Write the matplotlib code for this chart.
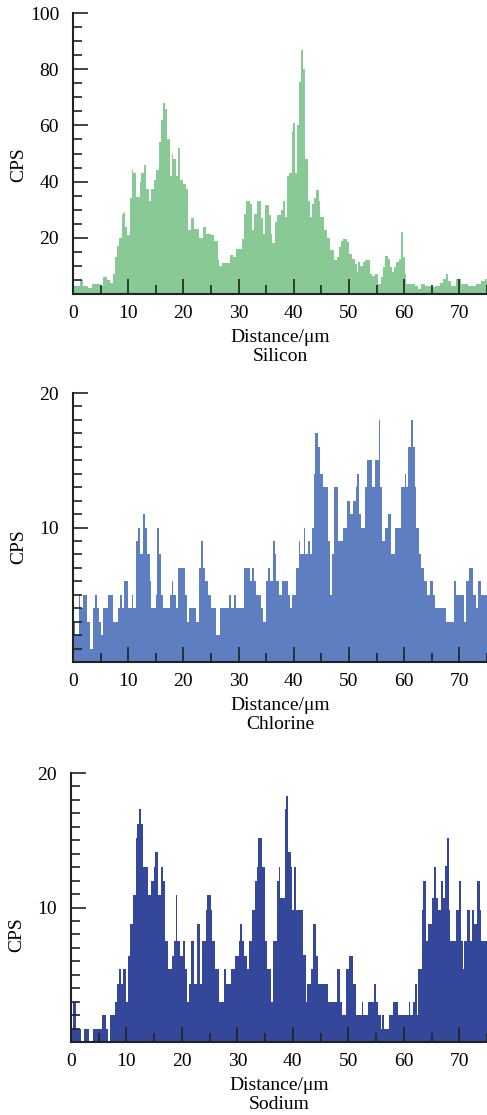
import numpy as np
import matplotlib
matplotlib.use("Agg")
import matplotlib.pyplot as plt
from matplotlib.ticker import MultipleLocator, FixedLocator

plt.rcParams['font.family'] = ['Liberation Serif', 'DejaVu Serif']
plt.rcParams['mathtext.fontset'] = 'stix'

X_MAX = 75.0

# ---------------- Silicon: step start (um) and CPS ----------------
si_x = [0, 1.3, 1.9, 2.8, 3.4, 4.9, 5.5, 6.1, 6.7, 7.3, 7.6, 7.9, 8.4, 8.8, 9.1, 9.4, 9.7,
        10.3, 10.6, 10.9, 11.5, 12.1, 12.4, 12.8, 13.3, 13.8, 14.2, 14.6, 15.1, 15.6, 16.0,
        16.3, 16.7, 17.0, 17.5, 18.0, 18.2, 18.7, 19.0, 19.3, 19.9, 20.4, 20.8, 21.4, 22.0,
        22.9, 23.6, 24.1, 25.0, 25.6, 26.2, 26.5, 27.0, 28.4, 28.9, 29.5, 30.6, 31.0, 31.4,
        32.0, 32.5, 32.8, 33.4, 34.0, 34.4, 34.8, 35.5, 35.8, 36.1, 36.6, 37.0, 37.6, 38.0,
        38.4, 38.8, 39.2, 39.6, 39.8, 40.2, 40.6, 41.0, 41.3, 41.7, 42.1, 42.6, 43.0, 43.3,
        43.7, 44.1, 44.5, 44.8, 45.4, 46.0, 46.6, 47.2, 47.8, 48.2, 48.6, 49.0, 49.6, 50.0,
        50.5, 51.0, 51.4, 51.7, 52.0, 52.6, 52.9, 53.8, 54.2, 54.7, 55.3, 55.8, 56.2, 56.6,
        57.0, 57.4, 57.7, 58.2, 58.6, 59.0, 59.4, 59.7, 60.1, 60.4, 61.9, 62.5, 63.1, 63.7,
        64.9, 65.5, 66.4, 67.0, 67.6, 67.9, 68.5, 69.4, 70.3, 71.5, 73.0, 73.9, 74.6]
si_cps = [3, 5, 3, 2, 3.5, 3, 6, 5, 4, 7, 13, 17, 20, 28, 29, 24, 21,
          34, 44, 43, 34.5, 40, 43, 46, 37.5, 33, 37.5, 40.5, 44, 54, 62,
          68, 66, 55, 42, 50, 48, 42, 52, 40.5, 39, 37.5, 22.6, 27, 23,
          20, 24, 21.5, 21, 19, 12, 10, 11, 14, 13, 16, 19.6, 28.5, 33,
          32, 22.6, 28.5, 33, 27, 21.5, 31.5, 28, 21.5, 18, 25.6, 28, 30, 33,
          27.4, 42, 43, 58, 61, 43, 60, 75.6, 87, 80, 48, 33, 27.4, 32,
          34, 37, 33, 27.4, 22.6, 20, 15.5, 12, 13, 16.7, 19, 19.6, 18.5, 14.3,
          12.5, 10.7, 7.7, 11.3, 10, 11.3, 12, 7, 6.5, 7, 3.6, 6, 9.5, 13.7,
          12.5, 9.5, 7.7, 9.5, 11.3, 12.5, 22, 13, 7, 3.6, 3, 1.8, 3.6, 3,
          2.4, 3, 4, 5.4, 7, 4.8, 3, 5.4, 3.6, 3, 3.6, 4.8, 5.5]

# ---------------- Chlorine ----------------
cl_x = [0, 0.4, 1.0, 1.2, 1.9, 2.6, 3.1, 3.7, 4.0, 4.4, 4.8, 5.0, 5.5, 6.4, 7.3, 8.2, 8.5,
        8.8, 9.2, 10.0, 10.6, 10.9, 11.4, 11.8, 12.1, 12.7, 13.1, 13.4, 13.9, 14.2, 15.0,
        15.2, 15.6, 16.0, 16.3, 17.5, 18.0, 18.2, 18.7, 19.0, 20.2, 20.6, 21.0, 22.3, 22.8,
        23.2, 23.5, 24.0, 24.4, 25.0, 25.9, 26.6, 28.3, 28.6, 29.2, 29.5, 31.0, 32.0, 32.5,
        32.8, 33.2, 34.0, 34.4, 34.9, 35.4, 35.6, 36.2, 36.6, 36.8, 37.4, 37.8, 39.0, 39.4,
        39.7, 40.4, 40.9, 41.2, 41.8, 42.1, 42.6, 42.9, 43.3, 43.6, 43.9, 44.4, 44.8, 45.2,
        46.2, 46.6, 46.9, 47.2, 48.0, 49.0, 49.6, 50.2, 50.8, 51.2, 51.5, 51.8, 52.2, 52.9,
        53.3, 54.1, 54.7, 55.4, 55.7, 56.0, 56.6, 57.1, 57.6, 58.3, 59.5, 60.1, 60.4, 60.7,
        61.2, 61.6, 61.9, 62.2, 62.6, 63.1, 63.6, 64.2, 64.6, 65.2, 65.5, 67.6, 69.0, 69.4,
        70.8, 71.2, 71.8, 72.4, 73.0, 73.4, 74.0]
cl_cps = [3, 2, 5, 4, 5, 3, 1, 4, 5, 4, 3, 2, 4, 5, 3, 4, 5,
          4, 6, 4, 5, 4, 9, 10, 8, 11, 10, 8, 6, 4, 5,
          10, 8, 5, 4, 5, 6, 5, 4, 7, 5, 3, 4, 3, 7,
          9, 7, 6, 5, 4, 2, 4, 5, 4, 5, 4, 7, 6, 7,
          6, 5, 4, 3, 6, 7, 6, 9, 8, 6, 5, 6, 5, 4,
          5, 7, 9, 8, 10, 8, 9, 8, 10, 14, 17, 16, 14, 13,
          9, 5, 8, 13, 9, 10, 12, 11, 12, 13, 14, 11, 10, 13,
          15, 13, 15, 18, 13, 9, 10, 11, 8, 10, 13, 14, 13, 16,
          18, 16, 13, 10, 8, 7, 6, 5, 6, 5, 4, 3, 6, 5,
          3, 6, 7, 5, 4, 6, 5]

# ---------------- Sodium ----------------
na_x = [0, 0.36, 0.95, 1.8, 2.4, 3.2, 3.9, 5.5, 6.25, 6.7, 7.1, 7.9, 8.3, 8.7, 9.1, 9.4,
        10.0, 10.3, 10.7, 11.2, 11.7, 11.9, 12.3, 12.6, 12.9, 13.9, 14.5, 14.9, 15.2, 15.7,
        16.3, 16.5, 17.0, 17.4, 18.2, 18.6, 18.9, 19.2, 19.6, 20.2, 20.6, 21.0, 21.3, 21.6,
        22.2, 22.8, 23.2, 23.7, 24.3, 24.6, 25.2, 25.5, 26.0, 26.7, 27.6, 28.0, 28.9, 29.5,
        30.2, 30.5, 30.8, 31.1, 31.7, 32.1, 32.6, 33.1, 33.5, 33.8, 34.4, 34.95, 35.4, 36.1,
        36.4, 37.15, 37.46, 37.76, 38.55, 38.79, 39.16, 39.58, 39.88, 40.2, 40.6, 41.82,
        42.3, 42.6, 43.2, 43.64, 44.1, 44.6, 46.4, 47.9, 48.5, 48.85, 49.6, 50.1, 50.9,
        51.3, 52.5, 52.7, 53.5, 54.55, 54.9, 55.3, 55.9, 56.1, 56.4, 57.3, 58.1, 59.0,
        61.0, 61.2, 61.7, 62.0, 62.3, 62.6, 63.2, 63.5, 64.0, 64.4, 65.0, 65.5, 65.8,
        66.25, 66.7, 67.0, 67.5, 67.8, 68.1, 68.4, 69.5, 69.9, 70.3, 70.7, 70.9, 71.4,
        71.9, 72.3, 72.7, 73.2, 73.7, 73.9]
na_cps = [1, 3, 1, 0, 1, 0, 1, 2, 1, 0, 2, 3, 4.3, 5.4, 4.3, 5.4,
          3, 6.4, 8.8, 10.9, 15.2, 16.2, 17.3, 16.2, 13, 10.9, 12, 13, 14.1, 10.9,
          13, 12, 7.5, 5.4, 6.4, 7.5, 10.9, 7.5, 6.4, 7.5, 5.4, 3, 4.3, 7.5,
          4.3, 8.8, 4.3, 7.5, 9.8, 10.9, 9.8, 7.5, 5.4, 3, 5.4, 4.3, 5.4, 6.4,
          7.5, 8.8, 7.5, 6.4, 5.4, 7.5, 9.8, 12, 13, 15.2, 13, 7.5, 5.4, 3,
          7.5, 12, 13, 10.7, 17.3, 18.3, 14.1, 13, 9.8, 13, 9.8, 6.5,
          3, 4.3, 5.4, 8.8, 6.4, 4.3, 3, 5.4, 3, 2, 5.4, 6.4, 4.3,
          2, 3, 2, 3, 4.3, 3, 2, 1, 2, 1, 2, 3, 2,
          3, 2, 3, 4.3, 2, 5.4, 9.8, 12, 7.5, 8.8, 10.7, 13, 10.7,
          9.8, 12, 10.7, 13.1, 15.2, 9.8, 7.5, 9.8, 12, 7.5, 5.4, 7.5, 9.8,
          7.5, 9.8, 8.8, 12, 9.8, 7.5]

si_color = '#88c995'
cl_color = '#5d7fc1'
na_color = '#34479a'

W, H = 487, 1115
fig = plt.figure(figsize=(W / 100, H / 100), dpi=100)

panels = [
    (si_x, si_cps, si_color, 'Silicon', 100, [20, 40, 60, 80, 100], 5, (73, 13, 294), 0.46),
    (cl_x, cl_cps, cl_color, 'Chlorine', 20, [10, 20], 1, (73, 393, 662), 0.43),
    (na_x, na_cps, na_color, 'Sodium', 20, [10, 20], 1, (71, 773, 1042), 0.40),
]

FS = 14
for xs, ys, col, name, ytop, yticks, yminor, (lpx, tpx, bpx), lab_y in panels:
    ax = fig.add_axes([lpx / W, 1 - bpx / H, 1 - lpx / W, (bpx - tpx) / H])
    edges = list(xs) + [X_MAX]
    ax.stairs(ys, edges, fill=True, color=col, baseline=0, linewidth=0)
    ax.set_xlim(0, X_MAX)
    ax.set_ylim(0, ytop)
    for s in ('top', 'right'):
        ax.spines[s].set_visible(False)
    for s in ('left', 'bottom'):
        ax.spines[s].set_linewidth(1.5)
        ax.spines[s].set_color('#222222')
    ax.xaxis.set_major_locator(MultipleLocator(10))
    ax.xaxis.set_minor_locator(MultipleLocator(5))
    ax.yaxis.set_major_locator(FixedLocator(yticks))
    ax.yaxis.set_minor_locator(MultipleLocator(yminor))
    ax.tick_params(which='major', direction='in', length=11, width=1.2, color='#222222',
                   labelsize=FS)
    ax.tick_params(which='minor', direction='in', length=6.5, width=1.2, color='#222222')
    ax.tick_params(axis='y', which='major', pad=10)
    ax.tick_params(axis='x', which='major', pad=8)
    ax.set_ylabel('CPS', fontsize=FS)
    ax.yaxis.set_label_coords(-0.11, lab_y)
    ax.set_xlabel('Distance/μm\n' + name, fontsize=FS, linespacing=1.12, labelpad=5)
    ax.set_axisbelow(False)

fig.savefig('out.png', dpi=100)
